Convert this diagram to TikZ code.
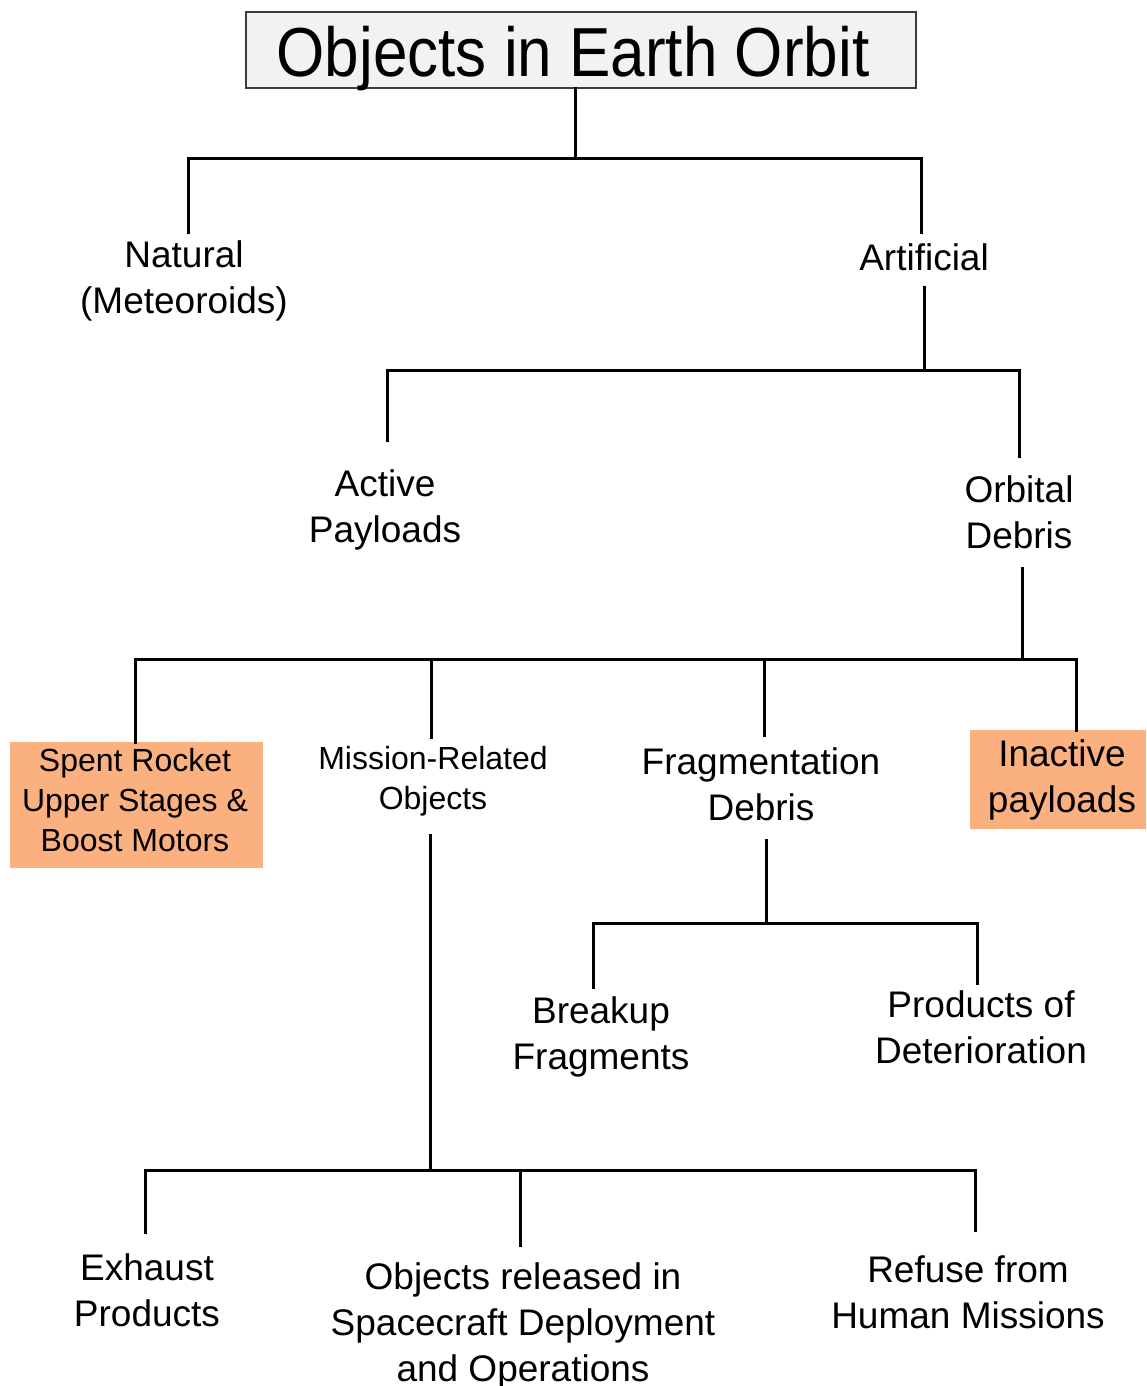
\documentclass[tikz,border=0pt]{standalone}
\usepackage{fontspec}
\usepackage{graphicx}
\setmainfont{Liberation Sans}
\definecolor{boxorange}{RGB}{251,176,128}
\definecolor{titlefill}{RGB}{242,242,242}
\definecolor{titleline}{RGB}{60,60,60}
\tikzset{
  conn/.style={line width=1.5pt, line join=miter, line cap=rect},
  lbl/.style={align=center, inner sep=0pt, font=\fontsize{18.5}{23}\selectfont},
  small/.style={align=center, inner sep=0pt, font=\fontsize{16}{20}\selectfont},
  orangebox/.style={fill=boxorange, inner sep=0pt, align=center},
}
\begin{document}
\begin{tikzpicture}[x=0.5pt, y=-0.5pt]
\useasboundingbox (0,0) rectangle (1146,1386);
% title
\node[draw=titleline, line width=0.6pt, fill=titlefill, minimum width=335pt, minimum height=38pt, inner sep=0pt]
  (title) at (581,50) {};
\node[inner sep=0pt, font=\fontsize{31}{36}\selectfont] (titletext) at (573,59) {\scalebox{1}[1.12]{Objects in Earth Orbit}};
% level 1
\node[lbl] (natural) at (184,281) {Natural\\(Meteoroids)};
\node[lbl] (artificial) at (924,257) {Artificial};
% level 2
\node[lbl] (active) at (385,510) {Active\\Payloads};
\node[lbl] (orbital) at (1019,512) {Orbital\\Debris};
% level 3
\node[orangebox, minimum width=126.5pt, minimum height=63pt] (spent) at (136.5,805) {};
\node[small] (spenttext) at (135,800) {Spent Rocket\\Upper Stages \&\\Boost Motors};
\node[small] (mission) at (433,781) {Mission-Related\\Objects};
\node[lbl] (frag) at (761,784) {Fragmentation\\Debris};
\node[orangebox, minimum width=88pt, minimum height=49.5pt] (inactive) at (1058,779.5) {};
\node[lbl] (inactivetext) at (1062,780) {Inactive\\payloads};
% level 4
\node[lbl] (breakup) at (601,1037) {Breakup\\Fragments};
\node[lbl] (products) at (981,1027) {Products of\\Deterioration};
% level 5
\node[lbl] (exhaust) at (147,1290) {Exhaust\\Products};
\node[lbl] (released) at (523,1326) {Objects released in\\Spacecraft Deployment\\and Operations};
\node[lbl] (refuse) at (968,1292) {Refuse from\\Human Missions};
% coordinates
\coordinate (j1) at (575,158);
\coordinate (natural-in) at (188,232);
\coordinate (artificial-in) at (921,232);
\coordinate (artificial-out) at (924,287);
\coordinate (j2) at (924,370);
\coordinate (active-in) at (387,440);
\coordinate (orbital-in) at (1019,456);
\coordinate (orbital-out) at (1022,568);
\coordinate (j3) at (1022,659);
\coordinate (spent-in) at (135,742);
\coordinate (mission-in) at (431,737);
\coordinate (frag-in) at (764,735);
\coordinate (inactive-in) at (1076,730);
\coordinate (frag-out) at (766,840);
\coordinate (j4) at (766,923);
\coordinate (breakup-in) at (593,987);
\coordinate (products-in) at (977,983);
\coordinate (mission-out) at (430,835);
\coordinate (j5) at (430,1170);
\coordinate (exhaust-in) at (145,1232);
\coordinate (released-in) at (520,1245);
\coordinate (refuse-in) at (975,1230);
% connectors
\draw[conn] (title.south -| j1) -- (j1);
\draw[conn] (natural-in) |- (j1) -| (artificial-in);
\draw[conn] (artificial-out) -- (j2);
\draw[conn] (active-in) |- (j2) -| (orbital-in);
\draw[conn] (orbital-out) -- (j3);
\draw[conn] (spent-in) |- (j3) -| (inactive-in);
\draw[conn] (mission-in) -- (mission-in |- j3);
\draw[conn] (frag-in) -- (frag-in |- j3);
\draw[conn] (frag-out) -- (j4);
\draw[conn] (breakup-in) |- (j4) -| (products-in);
\draw[conn] (mission-out) -- (j5);
\draw[conn] (exhaust-in) |- (j5) -| (refuse-in);
\draw[conn] (released-in) -- (released-in |- j5);
\end{tikzpicture}
\end{document}
